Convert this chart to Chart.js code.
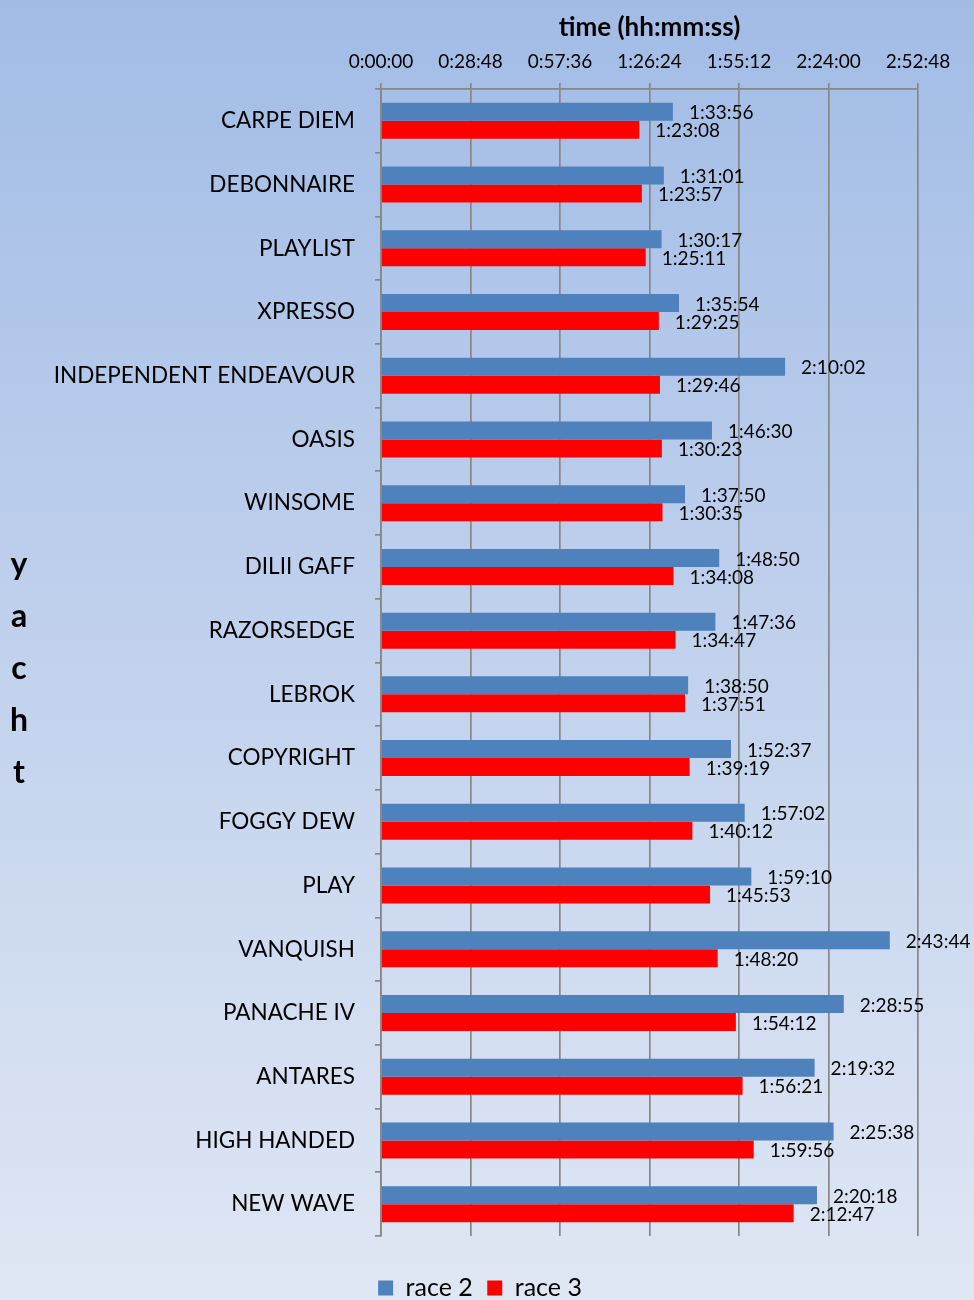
<!DOCTYPE html>
<html><head><meta charset="utf-8">
<script src="https://cdn.jsdelivr.net/npm/chart.js@4.4.0/dist/chart.umd.min.js"></script>
<style>html,body{margin:0;padding:0;overflow:hidden;background:#dfe6f4}#wrap{width:974px;height:1300px}</style>
</head><body><div id="wrap"><canvas id="c" width="974" height="1300"></canvas></div>
<script>
const yachts = ['CARPE DIEM','DEBONNAIRE','PLAYLIST','XPRESSO','INDEPENDENT ENDEAVOUR','OASIS','WINSOME','DILII GAFF','RAZORSEDGE','LEBROK','COPYRIGHT','FOGGY DEW','PLAY','VANQUISH','PANACHE IV','ANTARES','HIGH HANDED','NEW WAVE'];
const race2Times = ['1:33:56','1:31:01','1:30:17','1:35:54','2:10:02','1:46:30','1:37:50','1:48:50','1:47:36','1:38:50','1:52:37','1:57:02','1:59:10','2:43:44','2:28:55','2:19:32','2:25:38','2:20:18'];
const race3Times = ['1:23:08','1:23:57','1:25:11','1:29:25','1:29:46','1:30:23','1:30:35','1:34:08','1:34:47','1:37:51','1:39:19','1:40:12','1:45:53','1:48:20','1:54:12','1:56:21','1:59:56','2:12:47'];
const axisMaxTime = '2:52:48';
const axisStepTime = '0:28:48';
const yTitleLetters = ['y','a','c','h','t'];

function toSec(s){const p=s.split(':').map(Number);return p[0]*3600+p[1]*60+p[2];}
function fmt(v){v=Math.round(v);const h=Math.floor(v/3600),m=Math.floor((v%3600)/60),s=v%60;return h+':'+String(m).padStart(2,'0')+':'+String(s).padStart(2,'0');}

const FONT='Lato';

const bgPlugin={id:'bg',beforeDraw(chart){const ctx=chart.ctx;const g=ctx.createLinearGradient(0,0,0,chart.height);g.addColorStop(0,'#a2bce6');g.addColorStop(1,'#e0e7f4');ctx.save();ctx.fillStyle=g;ctx.fillRect(0,0,chart.width,chart.height);ctx.restore();}};

const legendShift={id:'legendShift',afterLayout(chart){const lg=chart.legend;if(lg){lg.left+=21;lg.right+=21;}}};

const labelPlugin={id:'vlabels',afterDatasetsDraw(chart){const ctx=chart.ctx;ctx.save();ctx.font='19px '+FONT;ctx.fillStyle='#000';ctx.textAlign='left';ctx.textBaseline='middle';
chart.data.datasets.forEach((ds,di)=>{const meta=chart.getDatasetMeta(di);meta.data.forEach((el,i)=>{ctx.fillText(fmt(ds.data[i]),el.x+16,el.y+1.5);});});ctx.restore();}};

const yTitlePlugin={id:'ytitle',afterDraw(chart){const ctx=chart.ctx;ctx.save();ctx.font='bold 32px '+FONT;ctx.fillStyle='#000';ctx.textAlign='center';ctx.textBaseline='middle';
const n=yTitleLetters.length;const cy=(chart.chartArea.top+chart.chartArea.bottom)/2+6;const step=52;
yTitleLetters.forEach((l,i)=>{ctx.fillText(l,19,cy+(i-(n-1)/2)*step);});ctx.restore();}};

new Chart(document.getElementById('c'),{
type:'bar',
data:{labels:yachts,datasets:[
{label:'race 2',data:race2Times.map(toSec),backgroundColor:'#4f81bd',borderWidth:0},
{label:'race 3',data:race3Times.map(toSec),backgroundColor:'#ff0000',borderWidth:0}
]},
options:{indexAxis:'y',responsive:false,devicePixelRatio:1,animation:false,
layout:{padding:{top:0,left:0,right:56,bottom:-10.5}},
datasets:{bar:{barPercentage:1,categoryPercentage:0.565}},
plugins:{tooltip:{enabled:false},
legend:{position:'bottom',title:{display:true,text:' ',font:{size:20.83},padding:0},
labels:{boxWidth:15,boxHeight:15,padding:14.5,color:'#000',font:{family:FONT,size:25}}}},
scales:{
x:{position:'top',min:0,max:toSec(axisMaxTime),
afterFit(s){s.height=89;},
ticks:{stepSize:toSec(axisStepTime),callback:v=>fmt(v),color:'#000',font:{family:FONT,size:19},padding:10,maxRotation:0},
grid:{color:'#878787',lineWidth:1.7,tickLength:6},
border:{color:'#878787',width:1.7},
title:{display:true,text:'time (hh:mm:ss)',color:'#000',font:{family:FONT,size:26,weight:'bold'},padding:{top:12,bottom:0}}},
y:{afterFit(s){s.width=381;},
ticks:{color:'#000',font:{family:FONT,size:22.5},padding:20,autoSkip:false},
grid:{drawOnChartArea:false,color:'#878787',lineWidth:1.7,tickLength:6,offset:true},
border:{color:'#878787',width:1.7}}
}},
plugins:[bgPlugin,legendShift,labelPlugin,yTitlePlugin]
});
</script></body></html>
